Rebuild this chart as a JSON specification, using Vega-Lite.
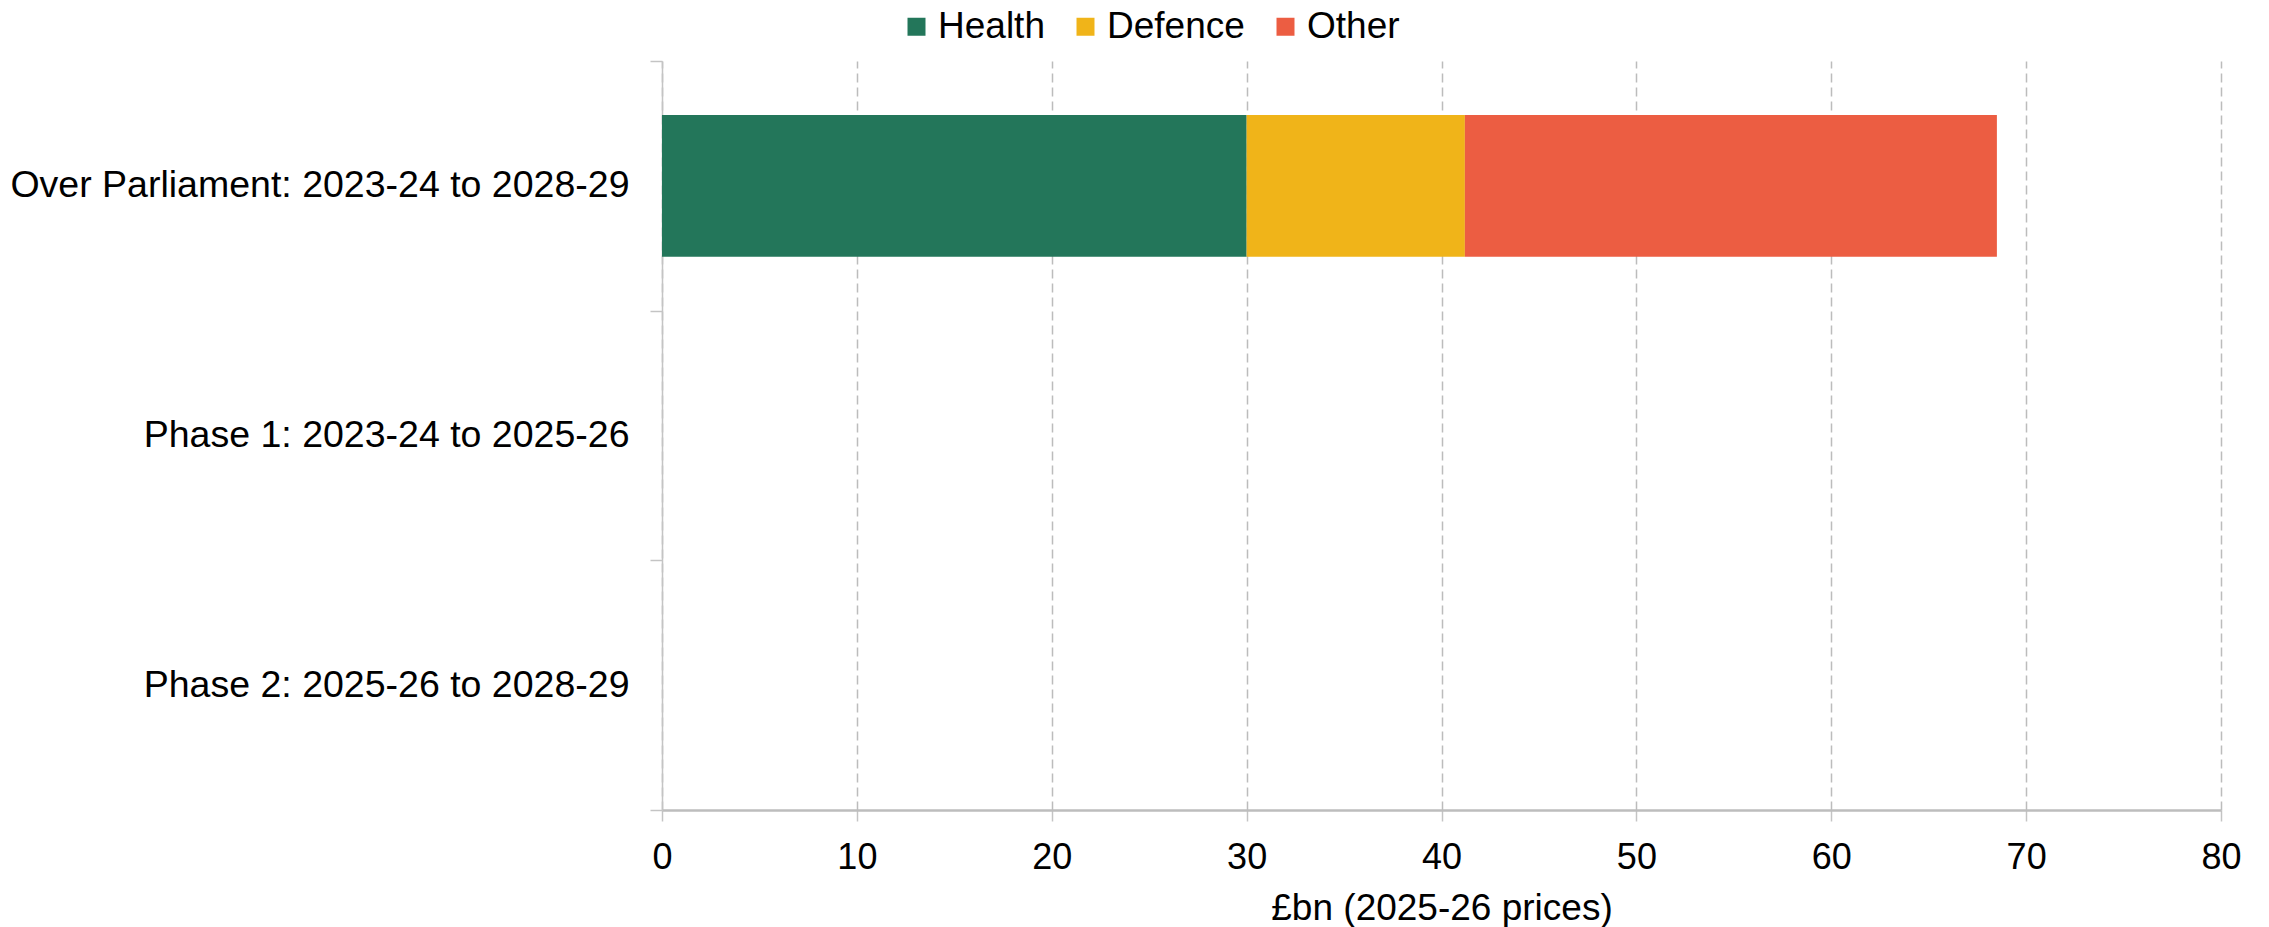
{
  "$schema": "https://vega.github.io/schema/vega-lite/v6.json",
  "autosize": {"type": "none"},
  "padding": {"left": 662, "top": 61, "right": 48, "bottom": 117},
  "width": 1559,
  "height": 749,
  "background": "white",
  "config": {
    "font": "Liberation Sans",
    "view": {"stroke": null}
  },
  "data": {
    "values": [
      {"period": "Over Parliament: 2023-24 to 2028-29", "category": "Health", "value": 30.0},
      {"period": "Over Parliament: 2023-24 to 2028-29", "category": "Defence", "value": 11.2},
      {"period": "Over Parliament: 2023-24 to 2028-29", "category": "Other", "value": 27.3}
    ]
  },
  "transform": [
    {"calculate": "indexof(['Health', 'Defence', 'Other'], datum.category)", "as": "stackOrder"}
  ],
  "mark": {"type": "bar", "height": {"band": 0.568}},
  "encoding": {
    "y": {
      "field": "period",
      "type": "nominal",
      "scale": {
        "domain": ["Over Parliament: 2023-24 to 2028-29", "Phase 1: 2023-24 to 2025-26", "Phase 2: 2025-26 to 2028-29"],
        "paddingInner": 0,
        "paddingOuter": 0
      },
      "axis": {
        "title": null,
        "tickBand": "extent",
        "labelFontSize": 37.5,
        "labelColor": "#000000",
        "labelPadding": 21,
        "tickSize": 12,
        "tickColor": "#c4c4c4",
        "tickWidth": 1.5,
        "domainColor": "#c4c4c4",
        "domainWidth": 1.5,
        "grid": false,
        "labelLimit": 1000
      }
    },
    "x": {
      "field": "value",
      "type": "quantitative",
      "stack": "zero",
      "scale": {"domain": [0, 80], "nice": false},
      "axis": {
        "title": "£bn (2025-26 prices)",
        "titleFontSize": 37,
        "titleFontWeight": "normal",
        "titleColor": "#000000",
        "titlePadding": 15,
        "values": [0, 10, 20, 30, 40, 50, 60, 70, 80],
        "labelFontSize": 36,
        "labelColor": "#000000",
        "labelPadding": 19,
        "labelFlush": false,
        "tickSize": 11,
        "tickColor": "#c4c4c4",
        "tickWidth": 1.5,
        "domainColor": "#bdbdbd",
        "domainWidth": 2.5,
        "grid": true,
        "gridColor": "#bcbcbc",
        "gridDash": [9, 5],
        "gridWidth": 1.5
      }
    },
    "order": {"field": "stackOrder", "type": "quantitative", "sort": "ascending"},
    "color": {
      "field": "category",
      "type": "nominal",
      "sort": ["Health", "Defence", "Other"],
      "scale": {
        "domain": ["Health", "Defence", "Other"],
        "range": ["#23765A", "#F0B419", "#EC5D42"]
      },
      "legend": {
        "title": null,
        "orient": "none",
        "direction": "horizontal",
        "legendX": 236,
        "legendY": -53,
        "padding": 0,
        "symbolType": "square",
        "symbolSize": 324,
        "symbolStrokeWidth": 0,
        "labelFontSize": 37,
        "labelColor": "#000000",
        "labelOffset": 3,
        "columnPadding": 22,
        "labelLimit": 400
      }
    }
  }
}
